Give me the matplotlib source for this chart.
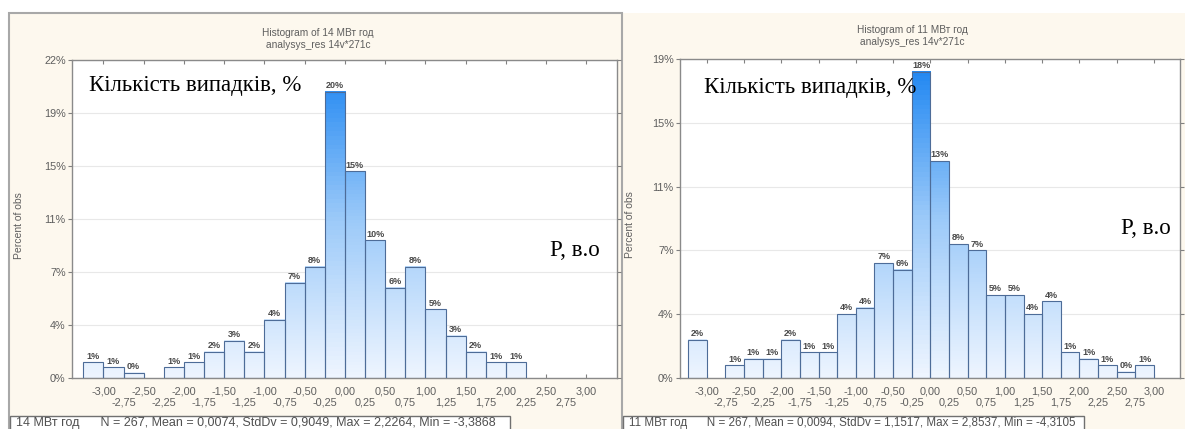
import numpy as np
import matplotlib
matplotlib.use("Agg")
import matplotlib.pyplot as plt
from matplotlib.patches import Rectangle
from matplotlib.colors import LinearSegmentedColormap

W, H = 1185, 429

# upper edges of the 0.25-wide bins (Statistica labels each bin by its upper edge)
bin_labels = [-3.00, -2.75, -2.50, -2.25, -2.00, -1.75, -1.50, -1.25, -1.00,
              -0.75, -0.50, -0.25, 0.00, 0.25, 0.50, 0.75, 1.00, 1.25, 1.50,
              1.75, 2.00, 2.25, 2.50, 2.75, 3.00]

n_obs = 267
counts_14 = [3, 2, 1, 0, 2, 3, 5, 7, 5, 11, 18, 21, 54, 39, 26, 17, 21, 13, 8, 5, 3, 3, 0, 0, 0]
counts_11 = [6, 0, 2, 3, 3, 6, 4, 4, 10, 11, 18, 17, 48, 34, 21, 20, 13, 13, 10, 12, 4, 3, 2, 1, 2]

ytick_counts_14 = [0, 10, 20, 30, 40, 50, 60]
ytick_counts_11 = [0, 10, 20, 30, 40, 50]

title_14 = "Histogram of 14 МВт год\nanalysys_res 14v*271c"
title_11 = "Histogram of 11 МВт год\nanalysys_res 14v*271c"
stats_14 = "14 МВт год      N = 267, Mean = 0,0074, StdDv = 0,9049, Max = 2,2264, Min = -3,3868"
stats_11 = "11 МВт год      N = 267, Mean = 0,0094, StdDv = 1,1517, Max = 2,8537, Min = -4,3105"
ylabel_text = "Кількість випадків, %"
xlabel_text = "P, в.о"

plt.rcParams['font.family'] = ['Liberation Sans', 'DejaVu Sans']

beige = '#fdf8ee'
grey_txt = '#5e5e5e'
cmap = LinearSegmentedColormap.from_list('stat', ['#eef5ff', '#9ccaf9', '#1a84f2'])


def px_rect(x0, y0, x1, y1):
    return [x0 / W, 1 - y1 / H, (x1 - x0) / W, (y1 - y0) / H]


def comma(v):
    return f"{v:.2f}".replace('.', ',')


def draw_hist(ax, counts, ytick_counts, xlim):
    pct = [100 * c / n_obs for c in counts]
    ytop = 100 * ytick_counts[-1] / n_obs
    for lab, p in zip(bin_labels, pct):
        if p == 0:
            continue
        x0, x1 = lab - 0.25, lab
        grad = np.linspace(0, p / ytop, 64).reshape(-1, 1)
        ax.imshow(grad, extent=[x0, x1, 0, p], origin='lower', aspect='auto',
                  cmap=cmap, vmin=0, vmax=1, zorder=2)
        ax.add_patch(Rectangle((x0, 0), 0.25, p, facecolor='none',
                               edgecolor='#4d6c98', lw=0.8, zorder=3))
        ax.text(lab - 0.125, p + 0.1, f"{round(p)}%", ha='center', va='bottom',
                fontsize=6.5, fontweight='bold', color='#4a4a4a', zorder=4)
    ax.set_xlim(*xlim)
    ax.set_ylim(0, ytop)
    yt = [100 * c / n_obs for c in ytick_counts]
    ax.set_yticks(yt, [f"{round(v)}%" for v in yt])
    ax.yaxis.grid(True, color='#e8e8e8', lw=0.8, zorder=0)
    ax.set_axisbelow(True)
    ax.set_xticks(bin_labels[::2], [comma(v) for v in bin_labels[::2]])
    ax.set_xticks(bin_labels[1::2], [comma(v) for v in bin_labels[1::2]], minor=True)
    ax.tick_params(axis='x', which='major', direction='in', length=3, top=True,
                   pad=6, labelsize=7.8, labelcolor=grey_txt, color='#808080')
    ax.tick_params(axis='x', which='minor', length=0, pad=14.2, labelsize=7.8,
                   labelcolor=grey_txt)
    ax.tick_params(axis='y', length=3, pad=1.5, right=True, labelsize=7.8,
                   labelcolor=grey_txt, color='#808080')
    for s in ax.spines.values():
        s.set_color('#8a8a8a')
        s.set_linewidth(1)
    ax.set_ylabel("Percent of obs", fontsize=7.5, color=grey_txt)
    ax.set_facecolor('white')


fig = plt.figure(figsize=(W / 100, H / 100), dpi=100, facecolor='white')

# panel backgrounds
fig.add_artist(Rectangle((623 / W, -0.05), (W - 623) / W, 1.05 - 13 / H,
                         transform=fig.transFigure, facecolor=beige,
                         edgecolor='none', zorder=-10))
fig.add_artist(Rectangle((9 / W, -0.05), (622 - 9) / W, 1.05 - 13 / H,
                         transform=fig.transFigure, facecolor=beige,
                         edgecolor='#a8a8a8', lw=1.5, zorder=-10))

ax1 = fig.add_axes(px_rect(72, 60, 617, 378))
draw_hist(ax1, counts_14, ytick_counts_14, (-3.39, 3.38))
ax1.yaxis.set_label_coords((24 - 72) / 545, 0.48)

ax2 = fig.add_axes(px_rect(680, 59, 1180, 378))
draw_hist(ax2, counts_11, ytick_counts_11, (-3.36, 3.35))
ax2.yaxis.set_label_coords((635 - 680) / 500, 0.48)

# titles
fig.text(318 / W, 1 - 39 / H, title_14, ha='center', va='center', fontsize=7.3,
         color=grey_txt, linespacing=1.3)
fig.text(912 / W, 1 - 36 / H, title_11, ha='center', va='center', fontsize=7.3,
         color=grey_txt, linespacing=1.3)

# overlaid axis captions
serif = ['Liberation Serif', 'DejaVu Serif']
fig.text(89 / W, 1 - 86 / H, ylabel_text, family=serif, fontsize=16.5, va='center', color='black')
fig.text(704 / W, 1 - 87 / H, ylabel_text, family=serif, fontsize=16.5, va='center', color='black')
fig.text(550 / W, 1 - 250 / H, xlabel_text, family=serif, fontsize=16.5, va='center', color='black')
fig.text(1121 / W, 1 - 228 / H, xlabel_text, family=serif, fontsize=16.5, va='center', color='black')

# statistics boxes
for x0, x1, txt, fs in [(10, 510, stats_14, 9.0), (623, 1084, stats_11, 8.4)]:
    fig.add_artist(Rectangle((x0 / W, -0.05), (x1 - x0) / W, 0.05 + 1 - 416 / H,
                             transform=fig.transFigure, facecolor='white',
                             edgecolor='#707070', lw=1, zorder=-5))
    fig.text((x0 + 6) / W, 1 - 423 / H, txt, fontsize=fs, color='#505050', va='center')

fig.savefig('out.png', dpi=100, facecolor='white')
